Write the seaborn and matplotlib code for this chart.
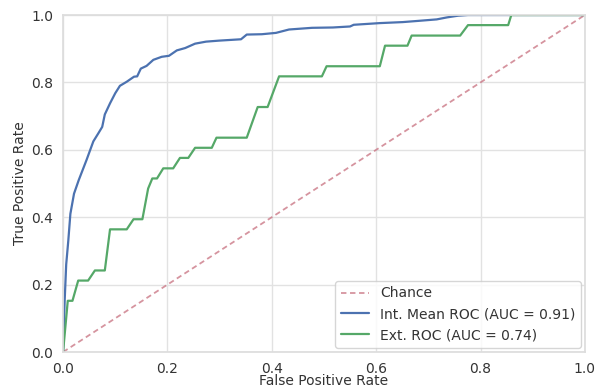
import numpy as np
import pandas as pd
import matplotlib
matplotlib.use("Agg")
import matplotlib.pyplot as plt
import seaborn as sns

# Internal mean ROC (blue)
int_fpr = [0.0, 0.003, 0.006, 0.010, 0.014, 0.021, 0.030, 0.045, 0.058, 0.068,
           0.075, 0.080, 0.090, 0.100, 0.109, 0.122, 0.136, 0.142, 0.149, 0.160,
           0.173, 0.189, 0.203, 0.218, 0.234, 0.253, 0.274, 0.299, 0.341, 0.352,
           0.381, 0.408, 0.433, 0.477, 0.517, 0.550, 0.557, 0.607, 0.651, 0.684,
           0.716, 0.736, 0.757, 0.776, 1.0]
int_tpr = [0.0, 0.15, 0.26, 0.33, 0.41, 0.47, 0.51, 0.57, 0.625, 0.65,
           0.668, 0.705, 0.738, 0.768, 0.790, 0.802, 0.817, 0.818, 0.841, 0.849,
           0.867, 0.876, 0.879, 0.895, 0.902, 0.915, 0.921, 0.924, 0.928, 0.942,
           0.943, 0.947, 0.957, 0.962, 0.963, 0.966, 0.971, 0.976, 0.979, 0.983,
           0.987, 0.993, 0.998, 1.0, 1.0]

# External ROC (green)
ext_fpr = [0.0, 0.009, 0.018, 0.029, 0.048, 0.061, 0.080, 0.090, 0.122, 0.135,
           0.152, 0.163, 0.171, 0.180, 0.192, 0.211, 0.224, 0.240, 0.253, 0.285,
           0.294, 0.352, 0.373, 0.392, 0.414, 0.496, 0.505, 0.607, 0.617, 0.660,
           0.668, 0.761, 0.776, 0.853, 0.859, 1.0]
ext_tpr = [0.0, 0.152, 0.152, 0.212, 0.212, 0.242, 0.242, 0.364, 0.364, 0.394,
           0.394, 0.485, 0.515, 0.515, 0.545, 0.545, 0.576, 0.576, 0.606, 0.606,
           0.636, 0.636, 0.727, 0.727, 0.818, 0.818, 0.848, 0.848, 0.909, 0.909,
           0.939, 0.939, 0.970, 0.970, 1.0, 1.0]

chance = [0.0, 1.0]

labels = ["Chance", "Int. Mean ROC (AUC = 0.91)", "Ext. ROC (AUC = 0.74)"]

sns.set_theme(style="whitegrid", rc={"grid.color": "#e2e2e2", "axes.edgecolor": "#dddddd",
                                     "text.color": "#333333", "axes.labelcolor": "#333333",
                                     "xtick.color": "#333333", "ytick.color": "#333333"})
plt.rcParams['font.family'] = ['DejaVu Sans']

fig = plt.figure(figsize=(5.95, 3.87), dpi=100)
ax = fig.add_axes([0.106, 0.0904, 0.877, 0.8708])

df_c = pd.DataFrame({"x": chance, "y": chance})
df_i = pd.DataFrame({"x": int_fpr, "y": int_tpr})
df_e = pd.DataFrame({"x": ext_fpr, "y": ext_tpr})

sns.lineplot(data=df_c, x="x", y="y", ax=ax, sort=False, estimator=None,
             color="#C8707F", alpha=0.75, lw=1.3, linestyle=(0, (3, 2)), label=labels[0])
sns.lineplot(data=df_i, x="x", y="y", ax=ax, sort=False, estimator=None,
             color="#4C72B0", lw=1.6, label=labels[1])
sns.lineplot(data=df_e, x="x", y="y", ax=ax, sort=False, estimator=None,
             color="#55A868", lw=1.6, label=labels[2])

ax.set_xlim(0, 1)
ax.set_ylim(0, 1)
ax.set_xticks([0, 0.2, 0.4, 0.6, 0.8, 1.0])
ax.set_yticks([0, 0.2, 0.4, 0.6, 0.8, 1.0])
ax.tick_params(labelsize=10, pad=1)
ax.set_xlabel("False Positive Rate", fontsize=10, labelpad=-1)
ax.set_ylabel("True Positive Rate", fontsize=10, labelpad=3)
ax.legend(loc="lower right", fontsize=10, frameon=True, borderaxespad=0.3)

fig.savefig("out.png", dpi=100)
